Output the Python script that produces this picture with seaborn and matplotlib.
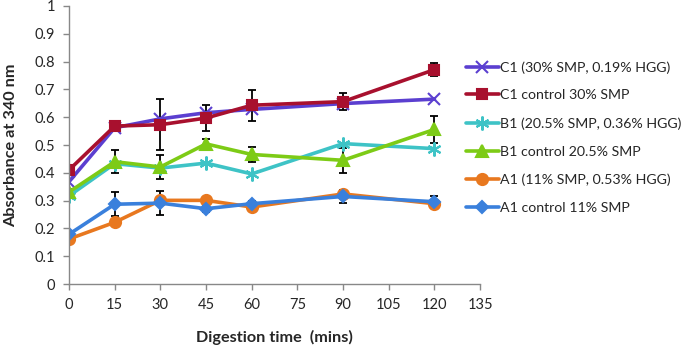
import numpy as np
import pandas as pd
import matplotlib
matplotlib.use("Agg")
import matplotlib.pyplot as plt
import seaborn as sns

# time points (mins)
time = [0, 15, 30, 45, 60, 90, 120]

# absorbance at 340 nm
c1 = [0.368, 0.562, 0.594, 0.616, 0.628, 0.649, 0.665]
c1_ctrl = [0.410, 0.568, 0.573, 0.597, 0.643, 0.656, 0.771]
b1 = [0.317, 0.433, 0.417, 0.435, 0.396, 0.505, 0.487]
b1_ctrl = [0.331, 0.440, 0.421, 0.504, 0.466, 0.445, 0.556]
a1 = [0.162, 0.222, 0.301, 0.301, 0.277, 0.324, 0.289]
a1_ctrl = [0.179, 0.287, 0.291, 0.271, 0.289, 0.315, 0.296]

# error bars (controls only)
c1_ctrl_err = [0.010, 0.008, 0.092, 0.048, 0.055, 0.030, 0.023]
b1_ctrl_err = [0.010, 0.041, 0.043, 0.018, 0.027, 0.045, 0.047]
a1_ctrl_err = [0.010, 0.044, 0.043, 0.012, 0.010, 0.024, 0.020]

labels = ["C1 (30% SMP, 0.19% HGG)", "C1 control 30% SMP",
          "B1 (20.5% SMP, 0.36% HGG)", "B1 control 20.5% SMP",
          "A1 (11% SMP, 0.53% HGG)", "A1 control 11% SMP"]
colors = ["#5B3FD0", "#A8102E", "#3EC3C6", "#7DCB16", "#E8781F", "#3A80DC"]
markers = ["x", "s", (6, 2, 0), "^", "o", "D"]
msizes = [9, 7, 10, 8, 8, 6]

sns.set_style("white")
plt.rcParams["font.family"] = ["Lato", "DejaVu Sans"]

fig = plt.figure(figsize=(6.83, 3.49), dpi=100)
ax = fig.add_axes([0.101, 0.186, 0.602, 0.797])

series = [c1, c1_ctrl, b1, b1_ctrl, a1, a1_ctrl]
errs = {1: c1_ctrl_err, 3: b1_ctrl_err, 5: a1_ctrl_err}

for i, vals in enumerate(series):
    df = pd.DataFrame({"time": time, "abs": vals})
    if i in errs:
        ax.errorbar(time, vals, yerr=errs[i], fmt="none", ecolor="black",
                    elinewidth=1.3, capsize=3, capthick=1.3, zorder=1.5)
    sns.lineplot(data=df, x="time", y="abs", ax=ax, color=colors[i],
                 marker=markers[i], markersize=msizes[i], linewidth=2.6,
                 markeredgecolor=colors[i], markeredgewidth=1.5,
                 label=labels[i], zorder=2 + i * 0.1)

ax.set_xlim(0, 135)
ax.set_ylim(0, 1)
ax.set_xticks(np.arange(0, 136, 15))
ax.set_yticks(np.arange(0, 1.01, 0.1))
ax.set_yticklabels(["0", "0.1", "0.2", "0.3", "0.4", "0.5", "0.6", "0.7", "0.8", "0.9", "1"])
ax.tick_params(axis="both", labelsize=10.5, length=4, width=1, color="#888888",
               direction="out", left=True, bottom=True, pad=6)
ax.set_xlabel("Digestion time  (mins)", fontsize=11.7, fontweight="bold", labelpad=13)
ax.set_ylabel("Absorbance at 340 nm", fontsize=11.7, fontweight="bold", labelpad=12)

sns.despine(ax=ax)
for s in ["left", "bottom"]:
    ax.spines[s].set_color("#888888")
    ax.spines[s].set_linewidth(1)

ax.legend(loc="upper left", bbox_to_anchor=(466 / 683, 1 - 61 / 349),
          bbox_transform=fig.transFigure, frameon=False,
          fontsize=10.2, handlelength=2.3, handletextpad=0.1,
          labelspacing=1.12, borderaxespad=0, borderpad=0)

fig.savefig("out.png", dpi=100)
